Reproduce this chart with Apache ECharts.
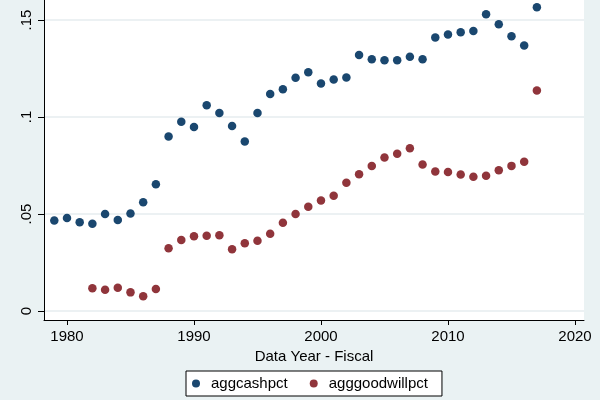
<!DOCTYPE html>
<html>
<head>
<meta charset="utf-8">
<script src="https://cdn.jsdelivr.net/npm/echarts@6/dist/echarts.min.js"></script>
<style>
html,body{margin:0;padding:0;background:#EAF2F3;}
#chart{width:600px;height:400px;}
</style>
</head>
<body>
<div id="chart"></div>
<script>
var cashYears = [1979,1980,1981,1982,1983,1984,1985,1986,1987,1988,1989,1990,1991,1992,1993,1994,1995,1996,1997,1998,1999,2000,2001,2002,2003,2004,2005,2006,2007,2008,2009,2010,2011,2012,2013,2014,2015,2016,2017];
var cashValues = [0.0467,0.0479,0.0457,0.045,0.05,0.0469,0.0503,0.056,0.0653,0.09,0.0975,0.0948,0.106,0.102,0.0953,0.0874,0.102,0.1119,0.1143,0.1202,0.1231,0.1173,0.1193,0.1203,0.132,0.1298,0.1293,0.1293,0.131,0.1298,0.141,0.1425,0.1437,0.1443,0.153,0.1478,0.1416,0.1368,0.1566];
var goodwillYears = [1982,1983,1984,1985,1986,1987,1988,1989,1990,1991,1992,1993,1994,1995,1996,1997,1998,1999,2000,2001,2002,2003,2004,2005,2006,2007,2008,2009,2010,2011,2012,2013,2014,2015,2016,2017];
var goodwillValues = [0.0117,0.011,0.012,0.0096,0.0076,0.0113,0.0323,0.0366,0.0385,0.0388,0.0391,0.0318,0.0349,0.0362,0.0398,0.0455,0.05,0.0537,0.057,0.0594,0.0661,0.0705,0.0747,0.0791,0.081,0.0839,0.0755,0.0719,0.0716,0.0704,0.0692,0.0697,0.0726,0.0748,0.0769,0.1137];
var xTicks = [1980,1990,2000,2010,2020];
var yTicks = [0,0.05,0.1,0.15];
var yTickLabels = ['0','.05','.1','.15'];
var seriesNames = ['aggcashpct','agggoodwillpct'];
var xTitle = 'Data Year - Fiscal';

function pairs(xs, ys){ return xs.map(function(x,i){ return [x, ys[i]]; }); }

var FONT = '"Liberation Sans", Arial, sans-serif';
var chart = echarts.init(document.getElementById('chart'), null, {renderer:'canvas'});
chart.setOption({
  backgroundColor: '#EAF2F3',
  animation: false,
  textStyle: {fontFamily: FONT},
  grid: {left: 44, right: 16, top: 0, bottom: 80, show: true, backgroundColor: '#ffffff', borderWidth: 0},
  xAxis: {
    type: 'value', min: 1978.19, max: 2020.71,
    name: xTitle, nameLocation: 'middle', nameGap: 26,
    nameTextStyle: {fontSize: 15, color: '#000', fontFamily: FONT},
    axisLine: {show: true, onZero: false, lineStyle: {color: '#000', width: 1}},
    axisTick: {show: true, length: 5, customValues: xTicks, lineStyle: {color: '#000'}},
    axisLabel: {customValues: xTicks, fontSize: 15, color: '#000', margin: 9, fontFamily: FONT,
      formatter: function(v){ return String(Math.round(v)); }},
    splitLine: {show: false}
  },
  yAxis: {
    type: 'value', min: -0.00464, max: 0.1603,
    axisLine: {show: true, onZero: false, lineStyle: {color: '#000', width: 1}},
    axisTick: {show: true, length: 6, customValues: yTicks, lineStyle: {color: '#000'}},
    axisLabel: {customValues: yTicks, rotate: 90, fontSize: 15, color: '#000', margin: 10, fontFamily: FONT,
      formatter: function(v){ var i = yTicks.findIndex(function(t){return Math.abs(t-v)<1e-9;}); return i>=0 ? yTickLabels[i] : ''; }},
    splitLine: {show: true, customValues: yTicks, lineStyle: {color: '#e6edef', width: 1.5}}
  },
  legend: {
    data: seriesNames,
    left: 186, top: 371,
    orient: 'horizontal',
    backgroundColor: '#ffffff', borderColor: '#000', borderWidth: 1,
    padding: [5, 14, 5, 6],
    itemGap: 22,
    itemWidth: 8, itemHeight: 8,
    icon: 'circle',
    textStyle: {fontSize: 15, color: '#000', fontFamily: FONT, padding: [0,0,0,6]}
  },
  series: [
    {name: seriesNames[0], type: 'scatter', data: pairs(cashYears, cashValues), symbol: 'circle', symbolSize: 8.5, itemStyle: {color: '#1a476f', opacity: 1}},
    {name: seriesNames[1], type: 'scatter', data: pairs(goodwillYears, goodwillValues), symbol: 'circle', symbolSize: 8.5, itemStyle: {color: '#90353b', opacity: 1}}
  ]
});
</script>
</body>
</html>
